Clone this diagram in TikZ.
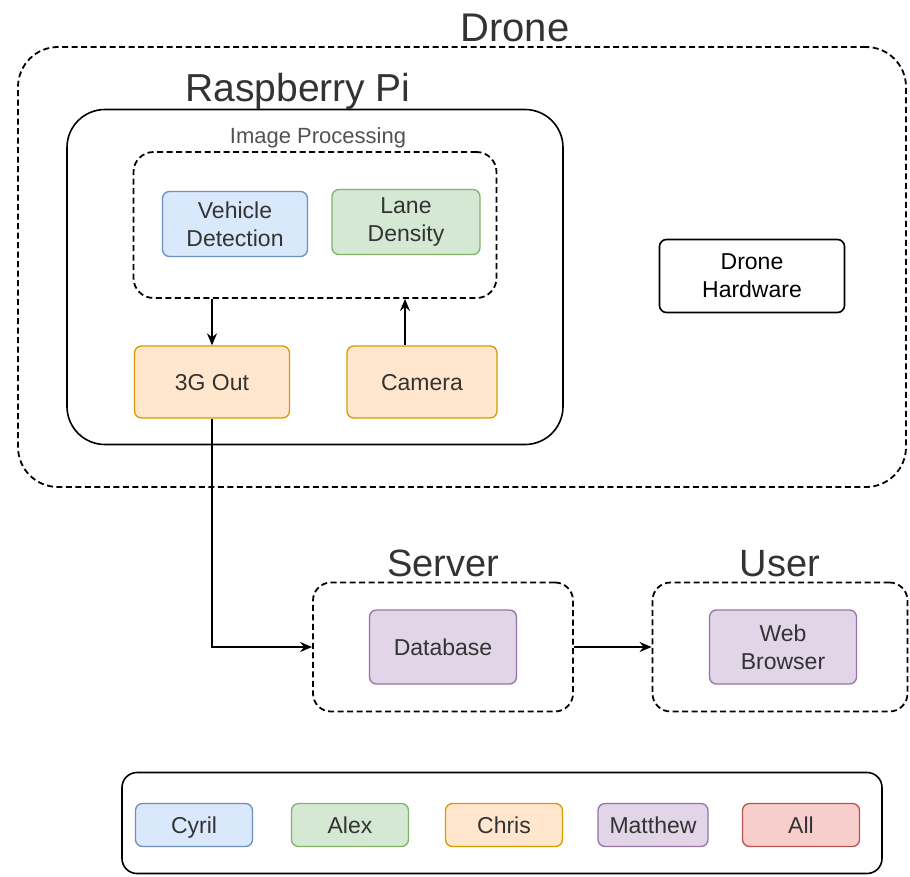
\documentclass[tikz,border=0pt]{standalone}
\usepackage{fontspec}
\setmainfont{Liberation Sans}
\usetikzlibrary{positioning,arrows.meta}

% warna per orang
\definecolor{txt}{HTML}{333333}
\definecolor{fillblue}{HTML}{DAE8FC}   \definecolor{drawblue}{HTML}{6C8EBF}
\definecolor{fillgreen}{HTML}{D5E8D4}  \definecolor{drawgreen}{HTML}{82B366}
\definecolor{fillorange}{HTML}{FFE6CC} \definecolor{draworange}{HTML}{D79B00}
\definecolor{fillpurple}{HTML}{E1D5E7} \definecolor{drawpurple}{HTML}{9673A6}
\definecolor{fillred}{HTML}{F8CECC}    \definecolor{drawred}{HTML}{B85450}

\tikzset{
  task/.style={draw, rounded corners=7pt, line width=1.3pt, align=center, text=txt,
    font=\fontsize{23}{28}\selectfont, inner sep=0pt},
  oneline/.style={text height=16.5pt, text depth=0pt},
  group/.style={draw, dash pattern=on 6pt off 3.5pt, line width=1.8pt, inner sep=0pt},
  title/.style={text=txt, font=\fontsize{38}{40}\selectfont, inner sep=0pt},
  link/.style={line width=1.5pt, -{Stealth[length=12pt,width=10pt]}}
}

\begin{document}
\begin{tikzpicture}[x=1pt,y=-1pt]
      \useasboundingbox (0,0) rectangle (910,876);

      % Drone
      \node[group, rounded corners=40pt, minimum width=888pt, minimum height=440pt] (drone) at (462,267) {};
      \node[title, font=\fontsize{40}{42}\selectfont, above=4pt of drone, xshift=53pt] (dronetitle) {Drone};
      \node[task, text=black, line width=1.6pt, minimum width=185pt, minimum height=73pt] (hw) at (752,276) {Drone\\Hardware};

      % Raspberry Pi
      \node[draw, line width=1.6pt, rounded corners=38pt, minimum width=496pt, minimum height=335pt] (rpi) at (315,277) {};
      \node[title, font=\fontsize{39}{41}\selectfont, above=-1pt of rpi, xshift=-17pt] (rpititle) {Raspberry Pi};

      % Image Processing
      \node[group, rounded corners=20pt, minimum width=363pt, minimum height=146pt] (imgp) at (315,225) {};
      \node[title, text=txt!85, font=\fontsize{22}{24}\selectfont, above=3pt of imgp, xshift=3pt] (imgptitle) {Image Processing};
      \node[task, fill=fillblue, draw=drawblue, minimum width=145pt, minimum height=65pt] (vd) at (235,224) {Vehicle\\Detection};
      \node[task, fill=fillgreen, draw=drawgreen, minimum width=148pt, minimum height=65pt] (ld) at (406,222) {Lane\\Density};

      % 3G dan kamera
      \node[task, oneline, fill=fillorange, draw=draworange, minimum width=155pt, minimum height=72pt] (out3g) at (212,382) {3G Out};
      \node[task, oneline, fill=fillorange, draw=draworange, minimum width=150pt, minimum height=72pt] (cam) at (422,382) {Camera};
      \draw[link] (imgp.south -| out3g.north) -- (out3g.north);
      \draw[link] ([xshift=-17pt]cam.north) -- ([xshift=-17pt]cam.north |- imgp.south);

      % Server dan User
      \node[group, rounded corners=18pt, minimum width=260pt, minimum height=129pt] (server) at (443,647) {};
      \node[title, above=5pt of server] (servertitle) {Server};
      \node[task, oneline, fill=fillpurple, draw=drawpurple, minimum width=147pt, minimum height=74pt] (db) at (443,647) {Database};
      \node[group, rounded corners=18pt, minimum width=255pt, minimum height=129pt] (user) at (780,647) {};
      \node[title, above=5pt of user] (usertitle) {User};
      \node[task, fill=fillpurple, draw=drawpurple, minimum width=147pt, minimum height=74pt] (web) at (783,647) {Web\\Browser};

      \draw[link] (out3g.south) |- (server.west);
      \draw[link] (server.east) -- (user.west);

      % Legenda
      \node[draw, line width=1.6pt, rounded corners=15pt, minimum width=760pt, minimum height=101pt] (legend) at (502,823) {};
      \foreach \who/\col/\x/\w in {Cyril/blue/194/117, Alex/green/350/117, Chris/orange/504/117, Matthew/purple/653/110, All/red/801/117} {
          \node[task, oneline, fill=fill\col, draw=draw\col, minimum width=\w pt, minimum height=43pt] (key-\who) at (\x,825) {\who};
        }
    \end{tikzpicture}
\end{document}
